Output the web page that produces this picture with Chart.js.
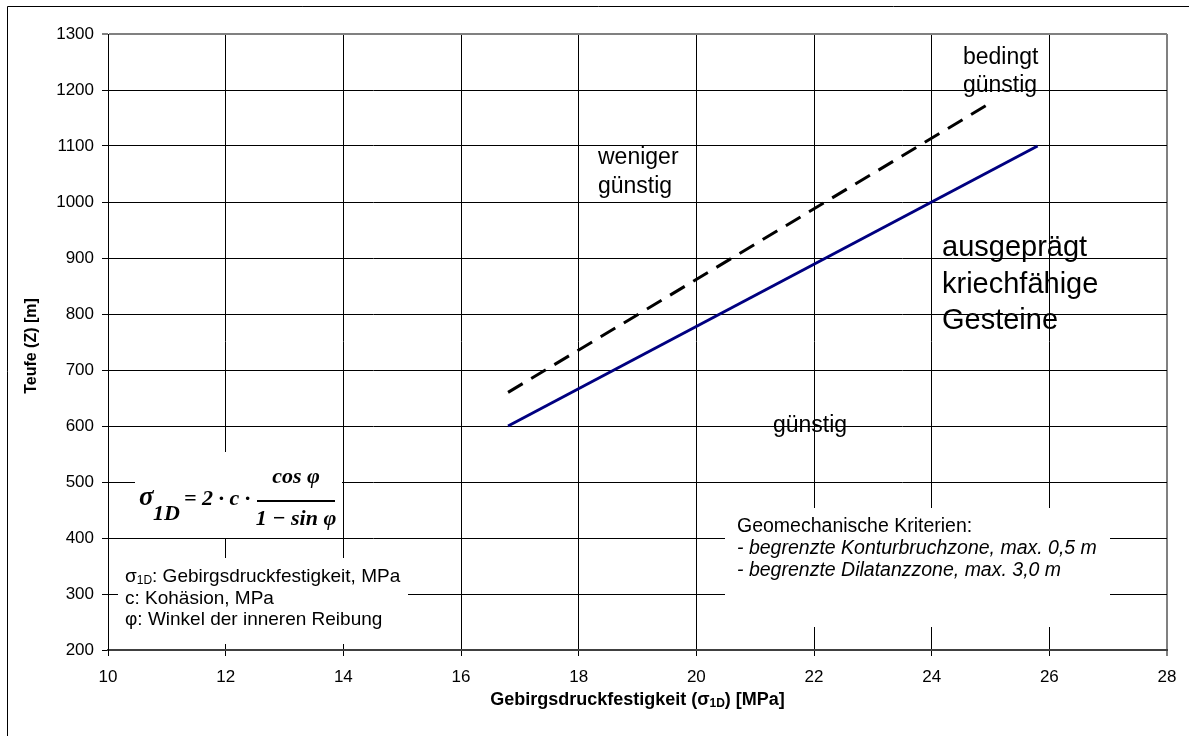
<!DOCTYPE html>
<html>
<head>
<meta charset="utf-8">
<script src="https://cdn.jsdelivr.net/npm/chart.js@4"></script>
<style>
  body { margin: 0; background: #fff; }
</style>
</head>
<body>
<canvas id="chart" width="1189" height="736"></canvas>
<script>
// axis ranges and ticks
const xRange = [10, 28];
const xStep = 2;
const yRange = [200, 1300];
const yStep = 100;

// solid line (blue) and dashed boundary (black)
const solidX = [16.8, 25.8];
const solidY = [600, 1100];
const dashedX = [16.8, 25.0];
const dashedY = [660, 1177];

const FONT = '"Liberation Sans", Arial, sans-serif';
const SERIF = '"Liberation Serif", "Times New Roman", serif';

const toPoints = (xs, ys) => xs.map((x, i) => ({ x: x, y: ys[i] }));

// white boxes behind the text blocks hide the grid, like in the original
const boxes = [
  [135, 452, 207, 86],   // formula
  [118, 558, 290, 86],   // symbol legend
  [725, 508, 385, 119],  // criteria
];

function drawSub(ctx, x, y, main, sub, rest, size) {
  ctx.font = size + 'px ' + FONT;
  ctx.fillText(main, x, y);
  x += ctx.measureText(main).width;
  ctx.font = Math.round(size * 0.65) + 'px ' + FONT;
  ctx.fillText(sub, x, y + size * 0.22);
  x += ctx.measureText(sub).width;
  ctx.font = size + 'px ' + FONT;
  ctx.fillText(rest, x, y);
}

const decorPlugin = {
  id: 'decor',
  beforeDraw(chart) {
    const ctx = chart.ctx;
    ctx.save();
    ctx.fillStyle = '#fff';
    ctx.fillRect(0, 0, chart.width, chart.height);
    ctx.strokeStyle = '#000';
    ctx.lineWidth = 1;
    ctx.beginPath();
    ctx.moveTo(7.5, chart.height);
    ctx.lineTo(7.5, 6.5);
    ctx.lineTo(chart.width, 6.5);
    ctx.stroke();
    ctx.restore();
  },
  beforeDatasetsDraw(chart) {
    const ctx = chart.ctx;
    ctx.save();
    ctx.fillStyle = '#fff';
    boxes.forEach(b => ctx.fillRect(b[0], b[1], b[2], b[3]));
    ctx.restore();
  },
  afterDraw(chart) {
    const ctx = chart.ctx;
    const area = chart.chartArea;
    ctx.save();
    ctx.fillStyle = '#000';
    ctx.textBaseline = 'middle';

    // axis titles
    ctx.textAlign = 'left';
    ctx.font = 'bold 18px ' + FONT;
    const t1 = 'Gebirgsdruckfestigkeit (σ';
    const t2 = '1D';
    const t3 = ') [MPa]';
    const w1 = ctx.measureText(t1).width;
    const w3 = ctx.measureText(t3).width;
    ctx.font = 'bold 12px ' + FONT;
    const w2 = ctx.measureText(t2).width;
    let tx = (area.left + area.right) / 2 - (w1 + w2 + w3) / 2;
    ctx.font = 'bold 18px ' + FONT;
    ctx.fillText(t1, tx, 700);
    ctx.font = 'bold 12px ' + FONT;
    ctx.fillText(t2, tx + w1, 704);
    ctx.font = 'bold 18px ' + FONT;
    ctx.fillText(t3, tx + w1 + w2, 700);

    ctx.save();
    ctx.translate(32, (area.top + area.bottom) / 2 + 4);
    ctx.rotate(-Math.PI / 2);
    ctx.textAlign = 'center';
    ctx.font = 'bold 16px ' + FONT;
    ctx.fillText('Teufe (Z) [m]', 0, 0);
    ctx.restore();

    // zone labels
    ctx.textAlign = 'left';
    ctx.font = '23px ' + FONT;
    ctx.fillText('weniger', 598, 158);
    ctx.fillText('günstig', 598, 187);
    ctx.fillText('bedingt', 963, 58);
    ctx.fillText('günstig', 963, 86);
    ctx.textAlign = 'center';
    ctx.fillText('günstig', 810, 426);
    ctx.textAlign = 'left';
    ctx.font = '29px ' + FONT;
    ctx.fillText('ausgeprägt', 942, 248);
    ctx.fillText('kriechfähige', 942, 285);
    ctx.fillText('Gesteine', 942, 321);

    // criteria
    ctx.font = '19.5px ' + FONT;
    ctx.fillText('Geomechanische Kriterien:', 737, 527);
    ctx.font = 'italic 19.5px ' + FONT;
    ctx.fillText('- begrenzte Konturbruchzone, max. 0,5 m', 737, 549);
    ctx.fillText('- begrenzte Dilatanzzone, max. 3,0 m', 737, 571);

    // symbol legend
    drawSub(ctx, 125, 577, 'σ', '1D', ': Gebirgsdruckfestigkeit, MPa', 19);
    ctx.font = '19px ' + FONT;
    ctx.fillText('c: Kohäsion, MPa', 125, 599);
    ctx.fillText('φ: Winkel der inneren Reibung', 125, 620);

    // formula
    ctx.textBaseline = 'alphabetic';
    ctx.font = 'bold italic 27px ' + SERIF;
    ctx.fillText('σ', 139, 505);
    ctx.font = 'bold italic 22px ' + SERIF;
    ctx.fillText('1D', 153, 520);
    ctx.fillText('= 2 · c ·', 184, 505);
    ctx.textAlign = 'center';
    ctx.fillText('cos φ', 296, 483);
    ctx.fillText('1 − sin φ', 296, 525);
    ctx.fillRect(257, 500, 78, 2);
    ctx.restore();
  }
};

new Chart(document.getElementById('chart'), {
  type: 'scatter',
  data: {
    datasets: [
      {
        data: toPoints(solidX, solidY),
        showLine: true,
        borderColor: '#000080',
        borderWidth: 3,
        pointRadius: 0,
        fill: false
      },
      {
        data: toPoints(dashedX, dashedY),
        showLine: true,
        borderColor: '#000',
        borderWidth: 3,
        borderDash: [17, 10],
        pointRadius: 0,
        fill: false
      }
    ]
  },
  options: {
    responsive: false,
    animation: false,
    events: [],
    layout: { padding: { top: 34, right: 22, left: 0, bottom: 0 } },
    plugins: {
      legend: { display: false },
      tooltip: { enabled: false }
    },
    scales: {
      x: {
        type: 'linear',
        min: xRange[0],
        max: xRange[1],
        afterFit: s => { s.height = 86; },
        ticks: {
          stepSize: xStep,
          color: '#000',
          padding: 11,
          maxRotation: 0,
          callback: v => String(v),
          font: { family: FONT, size: 17 }
        },
        grid: {
          color: c => c.tick && c.tick.value === xRange[1] ? '#808080' : '#000',
          lineWidth: c => c.tick && c.tick.value === xRange[1] ? 2 : 1,
          tickLength: 6
        },
        border: { color: '#404040', width: 2 }
      },
      y: {
        type: 'linear',
        min: yRange[0],
        max: yRange[1],
        afterFit: s => { s.width = 108; },
        ticks: {
          stepSize: yStep,
          color: '#000',
          padding: 8,
          callback: v => String(v),
          font: { family: FONT, size: 17 }
        },
        grid: {
          color: c => c.tick && c.tick.value === yRange[1] ? '#808080' : '#000',
          lineWidth: c => c.tick && c.tick.value === yRange[1] ? 2 : 1,
          tickLength: 6
        },
        border: { color: '#000', width: 1 }
      }
    }
  },
  plugins: [decorPlugin]
});
</script>
</body>
</html>
